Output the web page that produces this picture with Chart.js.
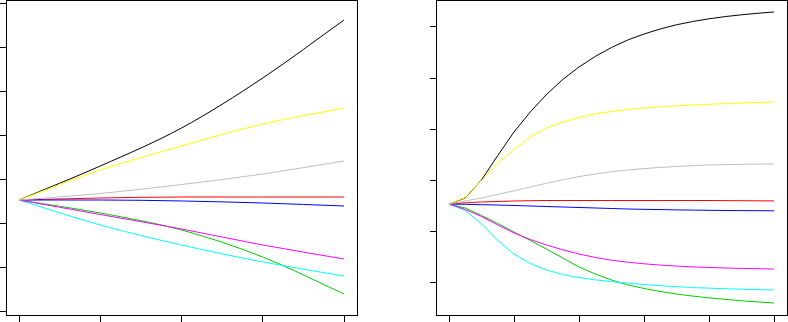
<!DOCTYPE html>
<html>
<head>
<meta charset="utf-8">
<script src="https://cdn.jsdelivr.net/npm/chart.js@4/dist/chart.umd.min.js"></script>
<style>
  html, body { margin: 0; padding: 0; background: #fff; }
  body { width: 788px; height: 322px; position: relative; overflow: hidden; }
  canvas { position: absolute; top: 0; }
  #left { left: 0; }
  #right { left: 430px; }
</style>
</head>
<body>
<canvas id="left" width="358" height="322"></canvas>
<canvas id="right" width="358" height="322"></canvas>
<script>
// R default palette order
const seriesNames = ["black", "red", "green3", "blue", "cyan", "magenta", "yellow", "gray"];
const seriesColors = ["#000000", "#ff0000", "#00cd00", "#0000ff", "#00ffff", "#ff00ff", "#ffff00", "#bebebe"];

// left panel: steps 0..4
const leftX = [0, 1, 2, 3, 4];
const leftBlack = [-0.463, 0.307, 1.168, 2.301, 3.615];
const leftRed = [-0.463, -0.418, -0.395, -0.395, -0.395];
const leftGreen = [-0.463, -0.757, -1.142, -1.754, -2.592];
const leftBlue = [-0.463, -0.463, -0.485, -0.531, -0.599];
const leftCyan = [-0.463, -1.029, -1.482, -1.867, -2.185];
const leftMagenta = [-0.463, -0.791, -1.120, -1.482, -1.799];
const leftYellow = [-0.463, 0.217, 0.761, 1.259, 1.621];
const leftGray = [-0.463, -0.316, -0.112, 0.126, 0.421];
const leftXTicks = [0, 1, 2, 3, 4];
const leftYTicks = [-3, -2, -1, 0, 1, 2, 3, 4];

// right panel: steps 0..20
const rightX = [0, 1, 2, 3, 4, 5, 6, 7, 8, 9, 10, 11, 12, 13, 14, 15, 16, 17, 18, 19, 20];
const rightBlack = [1.543, 1.660, 2.012, 2.490, 2.949, 3.340, 3.682, 3.975, 4.219, 4.424, 4.600,
  4.746, 4.863, 4.961, 5.043, 5.107, 5.160, 5.203, 5.238, 5.268, 5.293];
const rightRed = [1.543, 1.566, 1.582, 1.592, 1.602, 1.607, 1.611, 1.611, 1.611, 1.611, 1.611,
  1.611, 1.611, 1.611, 1.611, 1.611, 1.611, 1.609, 1.607, 1.605, 1.603];
const rightGreen = [1.543, 1.465, 1.318, 1.162, 0.996, 0.830, 0.664, 0.488, 0.313, 0.176, 0.059,
  -0.035, -0.107, -0.166, -0.215, -0.256, -0.291, -0.320, -0.346, -0.369, -0.391];
const rightBlue = [1.543, 1.537, 1.529, 1.523, 1.514, 1.504, 1.494, 1.484, 1.475, 1.465, 1.455,
  1.445, 1.439, 1.434, 1.428, 1.424, 1.420, 1.416, 1.414, 1.412, 1.410];
const rightCyan = [1.543, 1.416, 1.152, 0.830, 0.566, 0.381, 0.254, 0.166, 0.105, 0.062, 0.027,
  -0.003, -0.030, -0.053, -0.072, -0.088, -0.101, -0.112, -0.121, -0.129, -0.137];
const rightMagenta = [1.543, 1.436, 1.299, 1.133, 0.977, 0.850, 0.742, 0.648, 0.566, 0.498, 0.445,
  0.406, 0.375, 0.350, 0.330, 0.314, 0.303, 0.293, 0.285, 0.279, 0.273];
const rightYellow = [1.543, 1.670, 2.002, 2.334, 2.607, 2.852, 3.027, 3.145, 3.232, 3.301, 3.350,
  3.389, 3.418, 3.441, 3.461, 3.477, 3.490, 3.502, 3.514, 3.525, 3.535];
const rightGray = [1.543, 1.602, 1.660, 1.729, 1.801, 1.875, 1.947, 2.016, 2.078, 2.129, 2.172,
  2.207, 2.234, 2.258, 2.275, 2.291, 2.305, 2.313, 2.318, 2.322, 2.324];
const rightXTicks = [0, 4, 8, 12, 16, 20];
const rightYTicks = [0, 1, 2, 3, 4, 5];

const boxPlugin = {
  id: "box",
  afterDraw(chart) {
    const { ctx, chartArea: a } = chart;
    ctx.save();
    ctx.strokeStyle = "#000";
    ctx.lineWidth = 1;
    ctx.strokeRect(Math.round(a.left) + 0.5, Math.round(a.top) + 0.5,
      Math.round(a.right - a.left), Math.round(a.bottom - a.top));
    ctx.restore();
  },
};

function makeDatasets(xs, cols, smooth) {
  // reversed so that the last R column ends up drawn on top
  return cols
    .map((ys, i) => ({
      data: ys.map((y, j) => ({ x: xs[j], y })),
      borderColor: seriesColors[i],
      borderWidth: 1,
      pointRadius: 0,
      fill: false,
      tension: 0,
      cubicInterpolationMode: smooth ? "monotone" : "default",
    }))
    .reverse();
}

function axis(min, max, ticks, tickLength) {
  return {
    type: "linear",
    min,
    max,
    afterBuildTicks: (ax) => { ax.ticks = ticks.map((v) => ({ value: v })); },
    ticks: { display: false },
    border: { display: false },
    grid: { drawOnChartArea: false, drawTicks: true, tickLength, color: "#000", lineWidth: 1 },
  };
}

function makeChart(id, datasets, xr, yr, xTicks, yTicks) {
  return new Chart(document.getElementById(id), {
    type: "line",
    data: { datasets },
    plugins: [boxPlugin],
    options: {
      responsive: false,
      animation: false,
      layout: { padding: { top: 0, right: 1, left: 0, bottom: 0 } },
      plugins: { legend: { display: false }, tooltip: { enabled: false } },
      scales: {
        x: axis(xr[0], xr[1], xTicks, 7),
        y: axis(yr[0], yr[1], yTicks, 6),
      },
    },
  });
}

makeChart("left",
  makeDatasets(leftX, [leftBlack, leftRed, leftGreen, leftBlue, leftCyan, leftMagenta, leftYellow, leftGray], true),
  [-0.16, 4.16], [-3.068, 4.068], leftXTicks, leftYTicks);

makeChart("right",
  makeDatasets(rightX, [rightBlack, rightRed, rightGreen, rightBlue, rightCyan, rightMagenta, rightYellow, rightGray], false),
  [-0.8, 20.8], [-0.625, 5.527], rightXTicks, rightYTicks);
</script>
</body>
</html>
